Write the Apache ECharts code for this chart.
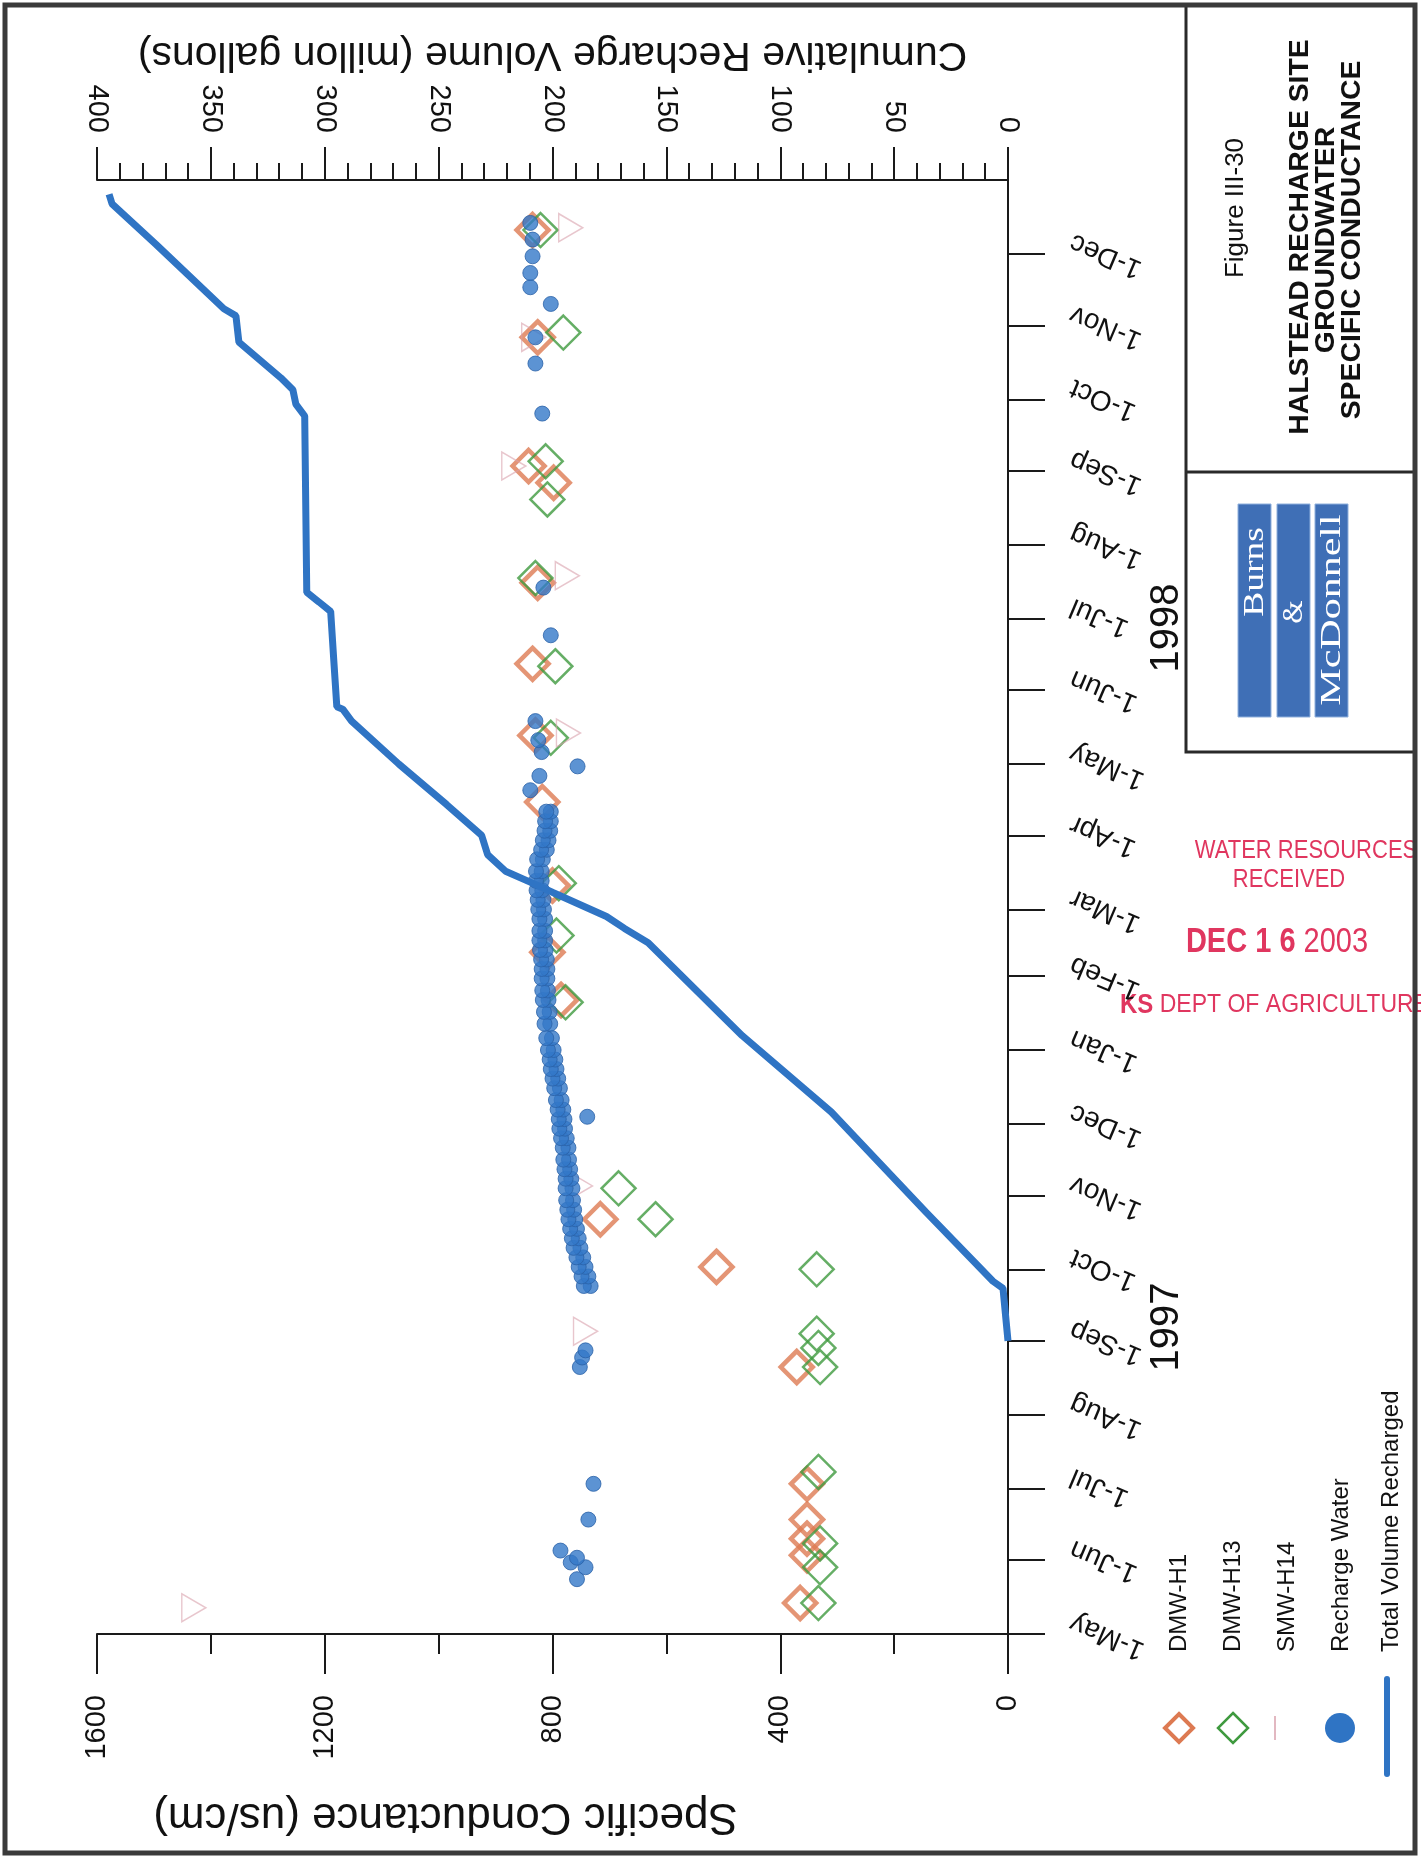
<!DOCTYPE html>
<html><head><meta charset="utf-8">
<script src="https://cdn.jsdelivr.net/npm/echarts@6/dist/echarts.min.js"></script>
<style>html,body{margin:0;padding:0;background:#fff}#chart{width:1421px;height:1858px}</style>
</head><body><div id="chart"></div>
<script>
// ---------- DATA ----------
const monthTicks = ['1997-05-01','1997-06-01','1997-07-01','1997-08-01','1997-09-01','1997-10-01','1997-11-01','1997-12-01',
  '1998-01-01','1998-02-01','1998-03-01','1998-04-01','1998-05-01','1998-06-01','1998-07-01','1998-08-01','1998-09-01','1998-10-01','1998-11-01','1998-12-01'];
const conductanceTicks = [0, 400, 800, 1200, 1600];
const volumeTicks = [0, 50, 100, 150, 200, 250, 300, 350, 400];

// Specific conductance (us/cm)
const dmwH1 = [['1997-05-14',365],['1997-06-03',353],['1997-06-10',353],['1997-06-18',353],['1997-07-03',353],['1997-08-21',371],
  ['1997-10-02',512],['1997-10-22',716],['1998-01-22',785],['1998-02-11',809],['1998-03-11',800],['1998-04-15',818],['1998-05-13',830],
  ['1998-06-12',835],['1998-07-16',826],['1998-08-27',798],['1998-09-03',842],['1998-10-27',826],['1998-12-11',835]];
const dmwH13 = [['1997-05-14',333],['1997-05-29',330],['1997-06-08',330],['1997-07-08',333],['1997-08-21',330],['1997-08-29',333],
  ['1997-09-04',336],['1997-10-01',336],['1997-10-22',619],['1997-11-04',684],['1998-01-21',777],['1998-02-18',793],['1998-03-12',789],
  ['1998-05-12',803],['1998-06-11',795],['1998-07-18',830],['1998-08-20',809],['1998-09-05',812],['1998-10-29',781],['1998-12-11',821]];
const smwH14 = [['1997-05-12',1430],['1997-09-05',742],['1997-11-05',751],['1998-05-14',772],['1998-07-19',774],['1998-09-03',868],
  ['1998-10-27',833],['1998-12-12',768]];
const rechargeWater = [['1997-05-24',757],['1997-05-29',742],['1997-05-31',768],['1997-06-02',757],['1997-06-05',786],['1997-06-18',737],
  ['1997-07-03',728],['1997-08-21',752],['1997-08-25',748],['1997-08-28',742],
  ['1997-09-24',733],['1997-09-24',745],['1997-09-28',737],['1997-09-28',749],['1997-10-02',742],['1997-10-02',754],
  ['1997-10-06',746],['1997-10-06',758],['1997-10-10',751],['1997-10-10',763],['1997-10-14',754],['1997-10-14',766],
  ['1997-10-18',757],['1997-10-18',769],['1997-10-22',760],['1997-10-22',772],['1997-10-26',762],['1997-10-26',774],
  ['1997-10-30',764],['1997-10-30',776],['1997-11-04',765],['1997-11-04',777],['1997-11-08',767],['1997-11-08',777],
  ['1997-11-12',769],['1997-11-12',779],['1997-11-16',771],['1997-11-16',781],['1997-11-21',772],['1997-11-21',782],
  ['1997-11-25',775],['1997-11-25',785],['1997-11-29',778],['1997-11-29',788],['1997-12-03',779],['1997-12-03',789],
  ['1997-12-04',739],['1997-12-07',781],['1997-12-07',791],['1997-12-11',784],['1997-12-11',794],['1997-12-16',787],['1997-12-16',797],
  ['1997-12-20',790],['1997-12-20',800],['1997-12-24',793],['1997-12-24',803],['1997-12-28',795],['1997-12-28',805],
  ['1998-01-01',798],['1998-01-01',808],['1998-01-06',801],['1998-01-06',811],['1998-01-12',804],['1998-01-12',814],
  ['1998-01-17',805],['1998-01-17',815],['1998-01-22',807],['1998-01-22',817],['1998-01-26',808],['1998-01-26',818],
  ['1998-01-31',809],['1998-01-31',819],['1998-02-04',809],['1998-02-04',819],['1998-02-08',810],['1998-02-08',820],
  ['1998-02-12',812],['1998-02-12',822],['1998-02-16',813],['1998-02-16',823],['1998-02-20',813],['1998-02-20',823],
  ['1998-02-25',813],['1998-02-25',823],['1998-03-01',815],['1998-03-01',825],['1998-03-05',816],['1998-03-05',826],
  ['1998-03-09',818],['1998-03-09',828],['1998-03-13',819],['1998-03-13',829],['1998-03-17',819],['1998-03-17',829],
  ['1998-03-22',817],['1998-03-22',827],['1998-03-26',810],['1998-03-26',820],['1998-03-30',807],['1998-03-30',817],
  ['1998-04-03',804],['1998-04-03',814],['1998-04-07',803],['1998-04-07',813],['1998-04-11',803],['1998-04-11',811],
  ['1998-04-20',839],['1998-04-26',823],['1998-04-30',756],['1998-05-06',819],['1998-05-11',825],['1998-05-19',830],['1998-06-24',803],
  ['1998-07-14',816],['1998-09-25',818],['1998-10-16',830],['1998-10-27',830],['1998-11-10',803],['1998-11-17',839],['1998-11-23',839],
  ['1998-11-30',835],['1998-12-07',835],['1998-12-14',839]];
// Cumulative recharge volume (million gallons)
const totalVolume = [['1997-09-01',0],['1997-09-23',2.2],['1997-09-26',6.6],['1997-10-25',36],['1997-12-06',77.6],['1998-01-07',116.7],
  ['1998-02-15',158],['1998-02-21',168.4],['1998-02-26',176.3],['1998-03-08',199.6],['1998-03-12',208.8],['1998-03-17',220.6],
  ['1998-03-24',228.5],['1998-04-01',231.1],['1998-04-14',246.5],['1998-05-01',267.5],['1998-05-19',288.2],['1998-05-24',292.1],
  ['1998-05-25',294.7],['1998-06-13',296],['1998-07-04',297.4],['1998-07-08',302.6],['1998-07-12',307.9],['1998-09-24',308.8],
  ['1998-09-29',312.7],['1998-10-05',314],['1998-10-10',319.3],['1998-10-25',337.7],['1998-11-05',339],['1998-11-08',344.3],
  ['1998-12-05',374.1],['1998-12-22',393.4],['1998-12-26',394.7]];

// ---------- CHART ----------
const toTime = s => { const p = s.split('-').map(Number); return new Date(p[0], p[1] - 1, p[2]).getTime(); };
const FONT = "'Liberation Sans', Arial, sans-serif";
const SERIF = "'Liberation Serif', 'Times New Roman', serif";
const INK = '#1a1a1a';
const C_H1 = '#dd7a52', C_H13 = '#3f9a3f', C_H14 = '#d9a0ac', C_BLUE = '#2f74c4';
const STAMP = '#e0365f';
const chart = echarts.init(document.getElementById('chart'));
const axisLine = { show: true, lineStyle: { color: INK, width: 2 } };
const tri = 'path://M0,0 L0,20 L18,10 Z';
const plain = v => String(v);
const vText = (x, y, text, size, extra) => Object.assign({ type: 'text', x, y, rotation: Math.PI / 2,
  style: Object.assign({ text, fontSize: size, fontFamily: FONT, fill: '#111', align: 'center', verticalAlign: 'middle' }, (extra && extra.style) || {}) },
  extra && extra.el || {});

const option = {
  animation: false,
  backgroundColor: '#ffffff',
  grid: { left: 97, right: 413, top: 180, bottom: 224, containLabel: false },
  xAxis: [
    { type: 'value', position: 'bottom', min: 0, max: 1600, interval: 400, inverse: true,
      axisLine, axisTick: { show: true, length: 40, lineStyle: { color: INK, width: 2 } },
      minorTick: { show: true, splitNumber: 2, length: 20, lineStyle: { color: INK, width: 2 } },
      splitLine: { show: false }, minorSplitLine: { show: false },
      axisLabel: { customValues: conductanceTicks, formatter: plain, rotate: 90, margin: 61, fontSize: 29, color: '#111', fontFamily: FONT },
      name: 'Specific Conductance (us/cm)', nameLocation: 'middle', nameGap: 160, nameRotate: 180,
      nameTextStyle: { fontSize: 44, color: '#111', fontFamily: FONT, padding: [0, 0, 0, 214] } },
    { type: 'value', position: 'top', min: 0, max: 400, interval: 50, inverse: true,
      axisLine, axisTick: { show: true, length: 33, lineStyle: { color: INK, width: 2 } },
      minorTick: { show: true, splitNumber: 5, length: 17, lineStyle: { color: INK, width: 2 } },
      splitLine: { show: false }, minorSplitLine: { show: false },
      axisLabel: { customValues: volumeTicks, formatter: plain, rotate: 90, margin: 47, fontSize: 29, color: '#111', fontFamily: FONT },
      name: 'Cumulative Recharge Volume (millon gallons)', nameLocation: 'middle', nameGap: 105, nameRotate: 180,
      nameTextStyle: { fontSize: 41, color: '#111', fontFamily: FONT } }
  ],
  yAxis: [
    { type: 'time', position: 'right', min: toTime('1997-05-01'), max: toTime('1999-01-01'),
      axisLine, splitLine: { show: false },
      axisTick: { show: true, length: 37, customValues: monthTicks.map(toTime), lineStyle: { color: INK, width: 2 } },
      axisLabel: { customValues: monthTicks.map(toTime), formatter: '{d}-{MMM}', rotate: 157, margin: 58,
        verticalAlign: 'top', fontSize: 28, color: '#111', fontFamily: FONT } }
  ],
  series: [
    { type: 'scatter', name: 'DMW-H1', xAxisIndex: 0, yAxisIndex: 0, symbol: 'diamond', symbolSize: 32,
      itemStyle: { color: 'rgba(255,255,255,0)', borderColor: C_H1, borderWidth: 4.5 },
      data: dmwH1.map(([d, v]) => [v, toTime(d)]) },
    { type: 'scatter', name: 'DMW-H13', xAxisIndex: 0, yAxisIndex: 0, symbol: 'diamond', symbolSize: 34,
      itemStyle: { color: 'rgba(255,255,255,0)', borderColor: C_H13, borderWidth: 2.5 },
      data: dmwH13.map(([d, v]) => [v, toTime(d)]) },
    { type: 'scatter', name: 'SMW-H14', xAxisIndex: 0, yAxisIndex: 0, symbol: tri, symbolSize: [24, 28],
      itemStyle: { color: 'rgba(255,255,255,0)', borderColor: C_H14, borderWidth: 1.5, opacity: 0.6 },
      data: smwH14.map(([d, v]) => [v, toTime(d)]) },
    { type: 'scatter', name: 'Recharge Water', xAxisIndex: 0, yAxisIndex: 0, symbol: 'circle', symbolSize: 15,
      itemStyle: { color: '#3378c8', borderColor: '#2a62a8', borderWidth: 1 },
      data: rechargeWater.map(([d, v]) => [v, toTime(d)]) },
    { type: 'line', name: 'Total Volume Recharged', xAxisIndex: 1, yAxisIndex: 0, showSymbol: false,
      lineStyle: { color: C_BLUE, width: 7 },
      data: totalVolume.map(([d, v]) => [v, toTime(d)]) }
  ],
  graphic: [
    // page frame
    { type: 'rect', shape: { x: 5, y: 5, width: 1410, height: 1848 }, style: { fill: 'none', stroke: '#3a3a3a', lineWidth: 5 }, z: 100 },
    // title block
    { type: 'polyline', shape: { points: [[1186, 5], [1186, 752], [1413, 752]] }, style: { fill: 'none', stroke: '#2a2a2a', lineWidth: 3 } },
    { type: 'line', shape: { x1: 1186, y1: 472, x2: 1413, y2: 472 }, style: { stroke: '#2a2a2a', lineWidth: 3 } },
    vText(1236, 208, 'Figure III-30', 26),
    vText(1301, 237, 'HALSTEAD RECHARGE SITE', 27, { style: { fontWeight: 'bold' }, el: { scaleX: 1.05 } }),
    vText(1327, 240, 'GROUNDWATER', 27, { style: { fontWeight: 'bold' }, el: { scaleX: 1.05 } }),
    vText(1353, 240, 'SPECIFIC CONDUCTANCE', 27, { style: { fontWeight: 'bold' }, el: { scaleX: 1.05 } }),
    // logo
    { type: 'rect', shape: { x: 1238, y: 504, width: 33, height: 213 }, style: { fill: '#3f6fb6', stroke: '#8fb0dc', lineWidth: 1 } },
    { type: 'rect', shape: { x: 1277, y: 504, width: 33, height: 213 }, style: { fill: '#3f6fb6', stroke: '#8fb0dc', lineWidth: 1 } },
    { type: 'rect', shape: { x: 1315, y: 504, width: 33, height: 213 }, style: { fill: '#3f6fb6', stroke: '#8fb0dc', lineWidth: 1 } },
    vText(1255, 572, 'Burns', 30, { style: { fontFamily: SERIF, fill: '#ffffff' }, el: { scaleX: 1.25 } }),
    vText(1294, 612, '&', 30, { style: { fontFamily: SERIF, fill: '#ffffff' } }),
    vText(1332, 610, 'McDonnell', 30, { style: { fontFamily: SERIF, fill: '#ffffff' }, el: { scaleX: 1.4 } }),
    // year labels
    vText(1167, 628, '1998', 40),
    vText(1167, 1327, '1997', 40),
    // stamp
    { type: 'text', x: 1306, y: 851, scaleY: 1.15, style: { text: 'WATER RESOURCES', fontSize: 22, fontFamily: FONT, fill: STAMP, align: 'center', verticalAlign: 'middle' } },
    { type: 'text', x: 1289, y: 880, scaleY: 1.15, style: { text: 'RECEIVED', fontSize: 22, fontFamily: FONT, fill: STAMP, align: 'center', verticalAlign: 'middle' } },
    { type: 'text', x: 1277, y: 942, scaleY: 1.2, style: { text: '{b|DEC 1 6} 2003', rich: { b: { fontWeight: 'bold', fontSize: 29, fill: STAMP, fontFamily: FONT } }, fontSize: 29, fontFamily: FONT, fill: STAMP, align: 'center', verticalAlign: 'middle' } },
    { type: 'text', x: 1120, y: 1005, scaleY: 1.15, style: { text: '{b|KS} DEPT OF AGRICULTURE', rich: { b: { fontWeight: 'bold', fontSize: 24, fill: STAMP, fontFamily: FONT } }, fontSize: 23, fontFamily: FONT, fill: STAMP, align: 'left', verticalAlign: 'middle' } },
    // legend
    { type: 'polygon', shape: { points: [[1179, 1714], [1193, 1728], [1179, 1742], [1165, 1728]] }, style: { fill: 'none', stroke: C_H1, lineWidth: 4 } },
    { type: 'polygon', shape: { points: [[1233, 1713], [1248, 1728], [1233, 1743], [1218, 1728]] }, style: { fill: 'none', stroke: C_H13, lineWidth: 2.5 } },
    { type: 'line', shape: { x1: 1275, y1: 1716, x2: 1275, y2: 1740 }, style: { stroke: C_H14, lineWidth: 1.5 } },
    { type: 'circle', shape: { cx: 1340, cy: 1728, r: 15 }, style: { fill: C_BLUE } },
    { type: 'line', shape: { x1: 1387, y1: 1679, x2: 1387, y2: 1774 }, style: { stroke: C_BLUE, lineWidth: 6, lineCap: 'round' } },
    vText(1179, 1652, 'DMW-H1', 24, { style: { align: 'left' } }),
    vText(1233, 1652, 'DMW-H13', 24, { style: { align: 'left' } }),
    vText(1287, 1652, 'SMW-H14', 24, { style: { align: 'left' } }),
    vText(1341, 1652, 'Recharge Water', 24, { style: { align: 'left' } }),
    vText(1391, 1652, 'Total Volume Recharged', 24, { style: { align: 'left' } })
  ]
};
chart.setOption(option);
</script>
</body></html>
